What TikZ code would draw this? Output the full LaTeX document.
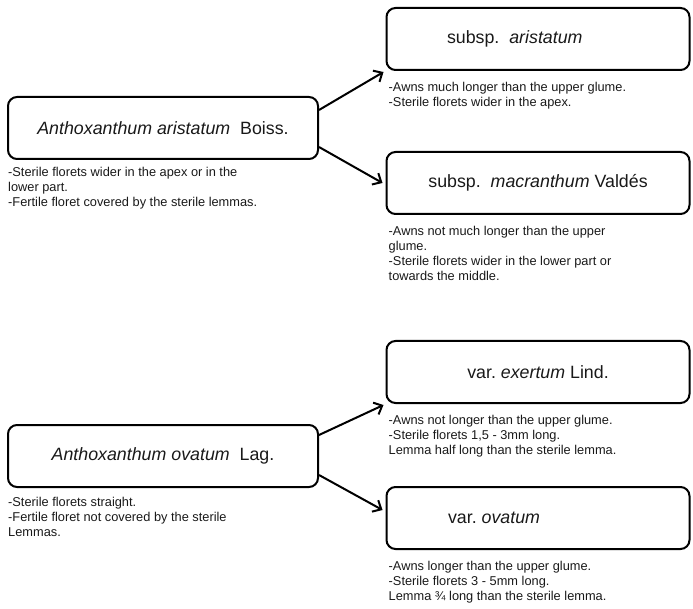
\documentclass[tikz,border=0pt]{standalone}
\usepackage{fontspec}
\setmainfont{Liberation Sans}
\usepackage{tikz}
\usetikzlibrary{arrows.meta,positioning}

\begin{document}
\begin{tikzpicture}[
  x=1pt, y=-1pt,
  taxon/.style={draw,line width=2pt,rounded corners=9pt,minimum width=303pt,minimum height=62pt,
    font=\fontsize{17.8}{21}\selectfont},
  notes/.style={align=left,inner sep=0pt,font=\fontsize{12.8}{15}\selectfont},
  link/.style={-{Straight Barb[length=7pt,width=13pt]},line width=2pt},
  every node/.style={text=black!90}
]
  \useasboundingbox (0,0) rectangle (693,609);
  % species A. aristatum
  \node[taxon,minimum width=310pt] (arist) at (163,128)
    {\textit{Anthoxanthum aristatum}\ \ Boiss.};
  \node[notes,below=7pt of arist.south west,anchor=north west,xshift=1pt] (aristn)
    {-Sterile florets wider in the apex or in the\\lower part.\\-Fertile floret covered by the sterile lemmas.};
  \node[taxon] (ssarist) at (538,39)
    {\makebox[182pt][l]{subsp.\ \ \textit{aristatum}}};
  \node[notes,below=11pt of ssarist.south west,anchor=north west,xshift=3pt] (ssaristn)
    {-Awns much longer than the upper glume.\\-Sterile florets wider in the apex.};
  \node[taxon] (ssmacr) at (538,183)
    {subsp.\ \ \textit{macranthum} Vald\'es};
  \node[notes,below=11pt of ssmacr.south west,anchor=north west,xshift=3pt] (ssmacrn)
    {-Awns not much longer than the upper\\glume.\\-Sterile florets wider in the lower part or\\towards the middle.};
  \draw[link] ([yshift=18pt]arist.east) -- ([shift={(-2pt,-1pt)}]ssarist.south west);
  \draw[link] ([yshift=-19pt]arist.east) -- ([xshift=-3pt]ssmacr.west);
  % species A. ovatum
  \node[taxon,minimum width=310pt] (ovat) at (163,456)
    {\textit{Anthoxanthum ovatum}\ \ Lag.};
  \node[notes,below=9pt of ovat.south west,anchor=north west,xshift=1pt] (ovatn)
    {-Sterile florets straight.\\-Fertile floret not covered by the sterile\\Lemmas.};
  \node[taxon] (vexert) at (538,372)
    {var.\ \textit{exertum} Lind.};
  \node[notes,below=11pt of vexert.south west,anchor=north west,xshift=3pt] (vexertn)
    {-Awns not longer than the upper glume.\\-Sterile florets 1,5 - 3mm long.\\Lemma half long than the sterile lemma.};
  \node[taxon] (vovat) at (538,518)
    {\makebox[180pt][l]{var.\ \textit{ovatum}}};
  \node[notes,below=11pt of vovat.south west,anchor=north west,xshift=3pt] (vovatn)
    {-Awns longer than the upper glume.\\-Sterile florets 3 - 5mm long.\\Lemma ¾ long than the sterile lemma.};
  \draw[link] ([yshift=21pt]ovat.east) -- ([shift={(-2pt,-1pt)}]vexert.south west);
  \draw[link] ([yshift=-19pt]ovat.east) -- ([shift={(-3pt,8pt)}]vovat.west);
\end{tikzpicture}
\end{document}
